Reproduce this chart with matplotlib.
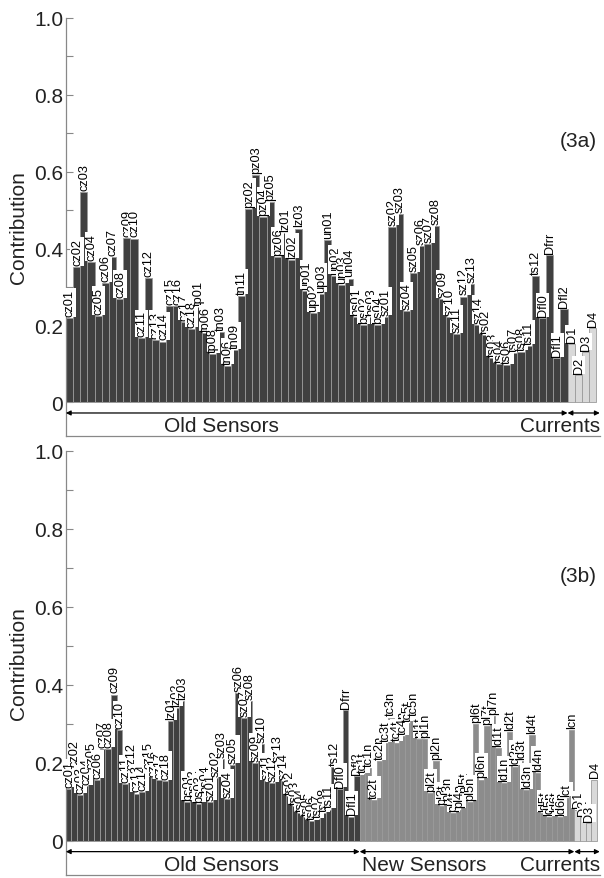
import matplotlib
matplotlib.use("Agg")
import matplotlib.pyplot as plt
import matplotlib.transforms as mtransforms
import numpy as np

plt.rcParams['font.family'] = ['Liberation Sans', 'DejaVu Sans']

# --- (3a): old sensors + currents ---
old_a = ['cz01', 'cz02', 'cz03', 'cz04', 'cz05', 'cz06', 'cz07', 'cz08', 'cz09', 'cz10',
         'cz11', 'cz12', 'cz13', 'cz14', 'cz15', 'cz16', 'cz17', 'cz18',
         'tp01', 'tp06', 'tp08', 'tn03', 'tn06', 'tn09', 'tn11',
         'pz02', 'pz03', 'pz04', 'pz05', 'pz06', 'lz01', 'lz02', 'lz03',
         'up01', 'up02', 'up03', 'un01', 'un02', 'un03', 'un04',
         'bs01', 'bs02', 'bs03', 'bs04',
         'sz01', 'sz02', 'sz03', 'sz04', 'sz05', 'sz06', 'sz07', 'sz08', 'sz09', 'sz10',
         'sz11', 'sz12', 'sz13', 'sz14',
         'ts02', 'ts03', 'ts04', 'ts06', 'ts07', 'ts08', 'ts11', 'ts12',
         'Dfl0', 'Dfrr', 'Dfl1', 'Dfl2']
old_a_val = [0.219, 0.352, 0.548, 0.365, 0.224, 0.310, 0.379, 0.268, 0.428, 0.426,
             0.166, 0.323, 0.163, 0.158, 0.251, 0.251, 0.209, 0.191,
             0.247, 0.181, 0.125, 0.183, 0.095, 0.136, 0.277,
             0.503, 0.591, 0.481, 0.522, 0.377, 0.440, 0.371, 0.452,
             0.290, 0.232, 0.282, 0.421, 0.329, 0.306, 0.322,
             0.222, 0.200, 0.222, 0.200,
             0.222, 0.457, 0.490, 0.237, 0.336, 0.407, 0.411, 0.459, 0.268, 0.222,
             0.177, 0.275, 0.307, 0.201,
             0.174, 0.116, 0.099, 0.096, 0.128, 0.131, 0.147, 0.329,
             0.218, 0.384, 0.114, 0.242]
cur_names = ['D1', 'D2', 'D3', 'D4']
cur_a_val = [0.151, 0.070, 0.131, 0.193]

# --- (3b): old sensors + new sensors + currents ---
old_b = ['cz01', 'cz02', 'cz03', 'cz04', 'cz05', 'cz06', 'cz07', 'cz08', 'cz09', 'cz10',
         'cz11', 'cz12', 'cz13', 'cz14', 'cz15', 'cz16', 'cz17', 'cz18',
         'lz01', 'lz02', 'lz03', 'bs01', 'bs02', 'bs03', 'bs04',
         'sz01', 'sz02', 'sz03', 'sz04', 'sz05', 'sz06', 'sz07', 'sz08', 'sz09', 'sz10',
         'sz11', 'sz12', 'sz13', 'sz14',
         'ts02', 'ts03', 'ts04', 'ts05', 'ts06', 'ts07', 'ts08', 'ts11', 'ts12',
         'Dfl0', 'Dfrr', 'Dfl1', 'Dfl2']
old_b_val = [0.133, 0.187, 0.118, 0.140, 0.180, 0.156, 0.236, 0.236, 0.375, 0.283,
             0.145, 0.178, 0.121, 0.125, 0.180, 0.160, 0.155, 0.153,
             0.307, 0.341, 0.358, 0.100, 0.110, 0.095, 0.120,
             0.100, 0.160, 0.210, 0.107, 0.195, 0.378, 0.314, 0.358, 0.200, 0.249,
             0.152, 0.148, 0.200, 0.152,
             0.115, 0.090, 0.070, 0.060, 0.050, 0.055, 0.070, 0.080, 0.190,
             0.133, 0.335, 0.062, 0.165]
new_b = ['tc1t', 'tc1n', 'tc2t', 'tc2n', 'tc3t', 'tc3n', 'tc4t', 'tc4n', 'tc5t', 'tc5n',
         'pl1t', 'pl1n', 'pl2t', 'pl2n', 'pl3t', 'pl3n', 'pl4t', 'pl4n', 'pl5t', 'pl5n',
         'pl6t', 'pl6n', 'pl7t', 'pl7n', 'ld1t', 'ld1n', 'ld2t', 'ld2n', 'ld3t', 'ld3n',
         'ld4t', 'ld4n', 'ld5t', 'ld5n', 'ld6t', 'ld6n', 'lct', 'lcn']
new_b_val = [0.170, 0.187, 0.105, 0.204, 0.250, 0.316, 0.252, 0.268, 0.303, 0.316,
             0.260, 0.260, 0.123, 0.204, 0.090, 0.100, 0.070, 0.080, 0.120, 0.100,
             0.300, 0.157, 0.295, 0.320, 0.238, 0.148, 0.278, 0.190, 0.204, 0.130,
             0.272, 0.174, 0.070, 0.060, 0.070, 0.060, 0.110, 0.285]
cur_b_val = [0.080, 0.060, 0.045, 0.157]

C_OLD, C_NEW, C_CUR = '#404040', '#8c8c8c', '#d9d9d9'
EDGE = '#9a9a9a'


def draw_panel(ax, groups, tag):
    names, vals, cols = [], [], []
    for nm, vv, cc, _ in groups:
        names += nm
        vals += vv
        cols += [cc] * len(nm)
    n = len(names)
    x = np.arange(1, n + 1)
    ax.bar(x, vals, width=1.0, color=cols, edgecolor=EDGE, linewidth=0.6, zorder=2)
    for xi, v, nm in zip(x, vals, names):
        ax.annotate(nm, (xi, v), xytext=(0.3, 1.5), textcoords='offset points',
                    rotation=90, ha='center', va='bottom', fontsize=9.2, zorder=3,
                    bbox=dict(boxstyle='square,pad=0.05', fc='white', ec='none'))

    ax.set_xlim(0.5, n + 1)
    ax.set_ylim(-0.088, 1.0)
    ax.set_yticks([0, 0.2, 0.4, 0.6, 0.8, 1.0])
    ax.set_yticklabels(['0', '0.2', '0.4', '0.6', '0.8', '1.0'])
    ax.set_yticks(np.arange(0.1, 1.0, 0.2), minor=True)
    ax.tick_params(axis='y', which='both', direction='in', length=5, width=0.8,
                   labelsize=15, pad=2, colors='#888888', labelcolor='#222222')
    ax.set_xticks([])
    ax.set_ylabel('Contribution', fontsize=15, labelpad=4, color='#222222')
    for s in ['top', 'right']:
        ax.spines[s].set_visible(False)
    for s in ['left', 'bottom']:
        ax.spines[s].set_color('#888888')
        ax.spines[s].set_linewidth(0.9)

    # group brackets below the bars
    start = 0.5
    bounds = []
    for nm, _, _, lab in groups:
        end = start + len(nm)
        bounds.append((start, end, lab))
        start = end
    bounds[-1] = (bounds[-1][0], n + 1, bounds[-1][2])
    for x0, x1, lab in bounds:
        ax.annotate('', xy=(x1, -0.028), xytext=(x0, -0.028),
                    arrowprops=dict(arrowstyle='<|-|>', color='black', lw=0.9,
                                    mutation_scale=7, shrinkA=0, shrinkB=0))
    trans = mtransforms.blended_transform_factory(ax.transAxes, ax.transData)
    ax.text(0.292, -0.06, 'Old Sensors', transform=trans, ha='center', va='center',
            fontsize=15, color='#222222')
    if len(bounds) == 3:
        ax.text(bounds[1][0] + 0.4, -0.06, 'New Sensors', ha='left', va='center',
                fontsize=15, color='#222222')
    ax.text(n + 1, -0.06, 'Currents', ha='right', va='center', fontsize=15,
            color='#222222')
    ax.text(0.995, 0.68, tag, transform=trans, ha='right', va='center', fontsize=15,
            color='#222222')


fig = plt.figure(figsize=(6.04, 8.79), dpi=100)
ax1 = fig.add_axes([0.109, 0.5028, 0.884, 0.4756])
ax2 = fig.add_axes([0.109, 0.0034, 0.884, 0.4824])

draw_panel(ax1, [(old_a, old_a_val, C_OLD, 'Old Sensors'),
                 (cur_names, cur_a_val, C_CUR, 'Currents')], '(3a)')
draw_panel(ax2, [(old_b, old_b_val, C_OLD, 'Old Sensors'),
                 (new_b, new_b_val, C_NEW, 'New Sensors'),
                 (cur_names, cur_b_val, C_CUR, 'Currents')], '(3b)')

fig.savefig('out.png', dpi=100)
